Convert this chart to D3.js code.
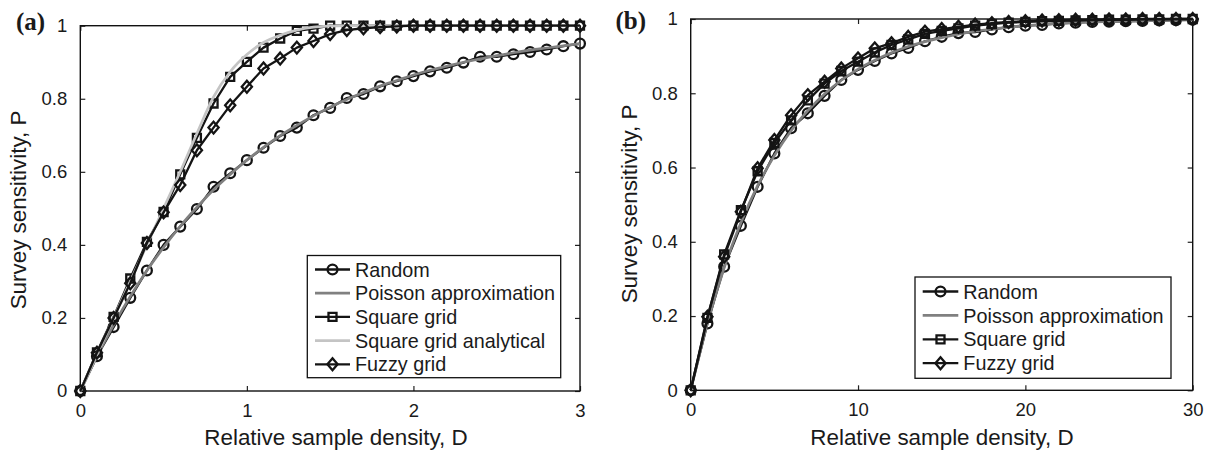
<!DOCTYPE html>
<html>
<head>
<meta charset="utf-8">
<script src="https://cdn.jsdelivr.net/npm/d3@7"></script>
<style>
  html, body { margin: 0; padding: 0; background: #fff; }
  svg { display: block; }
  text { font-family: "Liberation Sans", Arial, Helvetica, sans-serif; fill: #1a1a1a; }
</style>
</head>
<body>
<svg id="chart" width="1211" height="451"></svg>
<script>
// ---------- Data ----------
// Panel (a): relative sample density D, 0 .. 3
const densityA = [0, 0.1, 0.2, 0.3, 0.4, 0.5, 0.6, 0.7, 0.8, 0.9, 1.0, 1.1, 1.2, 1.3, 1.4, 1.5, 1.6, 1.7, 1.8, 1.9, 2.0, 2.1, 2.2, 2.3, 2.4, 2.5, 2.6, 2.7, 2.8, 2.9, 3.0];
const randomA = [0, 0.095, 0.175, 0.255, 0.33, 0.40, 0.45, 0.498, 0.559, 0.596, 0.632, 0.666, 0.698, 0.721, 0.755, 0.775, 0.802, 0.813, 0.834, 0.848, 0.862, 0.875, 0.885, 0.899, 0.915, 0.915, 0.922, 0.928, 0.935, 0.944, 0.951];
const poissonA = [0, 0.095, 0.181, 0.259, 0.33, 0.393, 0.451, 0.503, 0.551, 0.593, 0.632, 0.667, 0.699, 0.727, 0.753, 0.777, 0.798, 0.817, 0.835, 0.85, 0.865, 0.878, 0.889, 0.9, 0.909, 0.918, 0.926, 0.933, 0.939, 0.945, 0.95];
const squareA = [0, 0.106, 0.203, 0.308, 0.408, 0.49, 0.593, 0.693, 0.787, 0.86, 0.901, 0.94, 0.965, 0.986, 0.992, 1.0, 1.0, 1.0, 1.0, 1.0, 1.0, 1.0, 1.0, 1.0, 1.0, 1.0, 1.0, 1.0, 1.0, 1.0, 1.0];
const analyticalA = [0, 0.1, 0.2, 0.3, 0.4, 0.5, 0.6, 0.705, 0.805, 0.874, 0.921, 0.954, 0.974, 0.988, 0.996, 0.999, 1.0, 1.0, 1.0, 1.0, 1.0, 1.0, 1.0, 1.0, 1.0, 1.0, 1.0, 1.0, 1.0, 1.0, 1.0];
const fuzzyA = [0, 0.105, 0.2, 0.295, 0.405, 0.489, 0.564, 0.659, 0.721, 0.782, 0.833, 0.883, 0.91, 0.94, 0.958, 0.977, 0.988, 0.993, 0.996, 0.998, 1.0, 1.0, 1.0, 1.0, 1.0, 1.0, 1.0, 1.0, 1.0, 1.0, 1.0];

// Panel (b): relative sample density D, 0 .. 30
const densityB = [0, 1, 2, 3, 4, 5, 6, 7, 8, 9, 10, 11, 12, 13, 14, 15, 16, 17, 18, 19, 20, 21, 22, 23, 24, 25, 26, 27, 28, 29, 30];
const randomB = [0, 0.18, 0.333, 0.443, 0.548, 0.638, 0.706, 0.746, 0.793, 0.836, 0.863, 0.887, 0.907, 0.922, 0.94, 0.952, 0.962, 0.965, 0.972, 0.978, 0.982, 0.984, 0.988, 0.99, 0.992, 0.993, 0.994, 0.995, 0.996, 0.997, 0.998];
const poissonB = [0, 0.181, 0.33, 0.451, 0.551, 0.632, 0.699, 0.753, 0.798, 0.835, 0.865, 0.889, 0.909, 0.926, 0.939, 0.95, 0.959, 0.967, 0.973, 0.978, 0.982, 0.985, 0.988, 0.99, 0.992, 0.993, 0.994, 0.995, 0.996, 0.997, 0.998];
const squareB = [0, 0.195, 0.366, 0.485, 0.59, 0.666, 0.727, 0.781, 0.826, 0.86, 0.885, 0.91, 0.93, 0.945, 0.96, 0.968, 0.975, 0.982, 0.986, 0.99, 0.992, 0.994, 0.995, 0.996, 0.997, 0.998, 0.998, 0.999, 0.999, 1.0, 1.0];
const fuzzyB = [0, 0.198, 0.36, 0.481, 0.598, 0.674, 0.741, 0.795, 0.831, 0.867, 0.894, 0.921, 0.935, 0.952, 0.966, 0.973, 0.979, 0.985, 0.989, 0.992, 0.994, 0.996, 0.997, 0.998, 0.998, 0.999, 0.999, 1.0, 1.0, 1.0, 1.0];

// Tick values and labels
const yTicks = [0, 0.2, 0.4, 0.6, 0.8, 1];
const yTickLabels = ["0", "0.2", "0.4", "0.6", "0.8", "1"];
const xTicksA = [0, 1, 2, 3];
const xTicksB = [0, 10, 20, 30];

const xTitle = "Relative sample density, D";
const yTitle = "Survey sensitivity, P";

// Series styles
const STYLE = {
  random:     { name: "Random",                  color: "#141414", width: 2.3, marker: "circle" },
  poisson:    { name: "Poisson approximation",   color: "#808080", width: 2.7, marker: null },
  square:     { name: "Square grid",             color: "#141414", width: 2.3, marker: "square" },
  analytical: { name: "Square grid analytical",  color: "#c4c4c4", width: 2.7, marker: null },
  fuzzy:      { name: "Fuzzy grid",              color: "#141414", width: 2.3, marker: "diamond" }
};

const svg = d3.select("#chart");

// MATLAB-like diamond (nearly square proportions)
const diamondSymbol = {
  draw(context, size) {
    const w = Math.sqrt(size) * 0.6, h = Math.sqrt(size) * 0.7;
    context.moveTo(0, -h); context.lineTo(w, 0); context.lineTo(0, h); context.lineTo(-w, 0); context.closePath();
  }
};

function markerPath(type) {
  if (type === "circle") return d3.symbol(d3.symbolCircle, 76)();
  if (type === "square") return d3.symbol(d3.symbolSquare, 64)();
  if (type === "diamond") return d3.symbol(diamondSymbol, 72)();
  return null;
}

function drawPanel(cfg) {
  const g = svg.append("g");
  const x = d3.scaleLinear().domain(cfg.xDomain).range([cfg.left, cfg.right]);
  const y = d3.scaleLinear().domain([0, 1]).range([cfg.bottom, cfg.top]);
  const tickLen = 5;

  const fmtY = (d) => yTickLabels[yTicks.indexOf(d)];
  const axB = g.append("g").attr("transform", `translate(0,${cfg.bottom})`)
    .call(d3.axisBottom(x).tickValues(cfg.xTicks).tickSizeInner(-tickLen).tickSizeOuter(0).tickPadding(13).tickFormat(d3.format("d")));
  const axT = g.append("g").attr("transform", `translate(0,${cfg.top})`)
    .call(d3.axisTop(x).tickValues(cfg.xTicks).tickSizeInner(-tickLen).tickSizeOuter(0).tickFormat(""));
  const axL = g.append("g").attr("transform", `translate(${cfg.left},0)`)
    .call(d3.axisLeft(y).tickValues(yTicks).tickSizeInner(-tickLen).tickSizeOuter(0).tickPadding(13).tickFormat(fmtY));
  const axR = g.append("g").attr("transform", `translate(${cfg.right},0)`)
    .call(d3.axisRight(y).tickValues(yTicks).tickSizeInner(-tickLen).tickSizeOuter(0).tickFormat(""));
  [axB, axT, axL, axR].forEach(a => {
    a.select(".domain").remove();
    a.selectAll("line").attr("stroke", "#222").attr("stroke-width", 1.2);
    a.selectAll("text").attr("font-family", "Liberation Sans, Arial, sans-serif").attr("font-size", 18.5).attr("fill", "#1a1a1a");
  });

  // Frame
  g.append("rect").attr("x", cfg.left).attr("y", cfg.top)
    .attr("width", cfg.right - cfg.left).attr("height", cfg.bottom - cfg.top)
    .attr("fill", "none").attr("stroke", "#111").attr("stroke-width", 1.4);

  // Series
  const plotG = g.append("g");
  cfg.series.forEach(s => {
    const st = STYLE[s.key];
    const pts = cfg.xs.map((d, i) => [d, s.values[i]]);
    const line = d3.line().x(d => x(d[0])).y(d => y(d[1]))
      .curve(st.marker ? d3.curveLinear : d3.curveMonotoneX);
    plotG.append("path").datum(pts).attr("d", line)
      .attr("fill", "none").attr("stroke", st.color).attr("stroke-width", st.width)
      .attr("stroke-linejoin", "round");
    if (st.marker) {
      plotG.selectAll(null).data(pts).enter().append("path")
        .attr("d", markerPath(st.marker))
        .attr("transform", d => `translate(${x(d[0])},${y(d[1])})`)
        .attr("fill", "none").attr("stroke", st.color).attr("stroke-width", 2.3);
    }
  });

  // Axis titles
  g.append("text").attr("x", cfg.xTitleX).attr("y", 445)
    .attr("text-anchor", "middle").attr("font-size", 22.4).text(xTitle);
  g.append("text").attr("transform", `translate(${cfg.yTitleX},${cfg.yTitleY}) rotate(-90)`)
    .attr("text-anchor", "middle").attr("font-size", 22.4).text(yTitle);

  // Panel label
  g.append("text").attr("x", cfg.labelX).attr("y", cfg.labelY)
    .attr("font-weight", "bold").attr("font-size", 25)
    .style("font-family", "'Liberation Serif', 'Times New Roman', serif")
    .text(cfg.label);

  // Legend
  const lg = cfg.legend;
  g.append("rect").attr("x", lg.x0).attr("y", lg.y0)
    .attr("width", lg.x1 - lg.x0).attr("height", lg.y1 - lg.y0)
    .attr("fill", "#fff").attr("stroke", "#111").attr("stroke-width", 1.3);
  cfg.series.forEach((s, i) => {
    const st = STYLE[s.key];
    const cy = lg.firstRow + i * lg.rowGap;
    g.append("line").attr("x1", lg.lineX0).attr("x2", lg.lineX1).attr("y1", cy).attr("y2", cy)
      .attr("stroke", st.color).attr("stroke-width", st.width);
    if (st.marker) {
      g.append("path").attr("d", markerPath(st.marker))
        .attr("transform", `translate(${(lg.lineX0 + lg.lineX1) / 2},${cy})`)
        .attr("fill", "none").attr("stroke", st.color).attr("stroke-width", 2.3);
    }
    g.append("text").attr("x", lg.textX).attr("y", cy).attr("dy", "0.36em")
      .attr("font-size", 19.8).text(st.name);
  });
}

drawPanel({
  xDomain: [0, 3], xTicks: xTicksA, xs: densityA,
  left: 80.3, right: 580, top: 25.7, bottom: 391,
  series: [
    { key: "random", values: randomA },
    { key: "poisson", values: poissonA },
    { key: "square", values: squareA },
    { key: "analytical", values: analyticalA },
    { key: "fuzzy", values: fuzzyA }
  ],
  xTitleX: 336, yTitleX: 26, yTitleY: 210,
  label: "(a)", labelX: 16, labelY: 30,
  legend: { x0: 307.3, x1: 560.7, y0: 255.5, y1: 377.7, firstRow: 269.5, rowGap: 23.7, lineX0: 315, lineX1: 350, textX: 355 }
});

drawPanel({
  xDomain: [0, 30], xTicks: xTicksB, xs: densityB,
  left: 690.7, right: 1192.7, top: 19, bottom: 390.3,
  series: [
    { key: "random", values: randomB },
    { key: "poisson", values: poissonB },
    { key: "square", values: squareB },
    { key: "fuzzy", values: fuzzyB }
  ],
  xTitleX: 942, yTitleX: 636.5, yTitleY: 204,
  label: "(b)", labelX: 615.5, labelY: 29,
  legend: { x0: 915, x1: 1171, y0: 277, y1: 378.3, firstRow: 291.5, rowGap: 23.9, lineX0: 922.7, lineX1: 958.3, textX: 963.3 }
});
</script>
</body>
</html>
